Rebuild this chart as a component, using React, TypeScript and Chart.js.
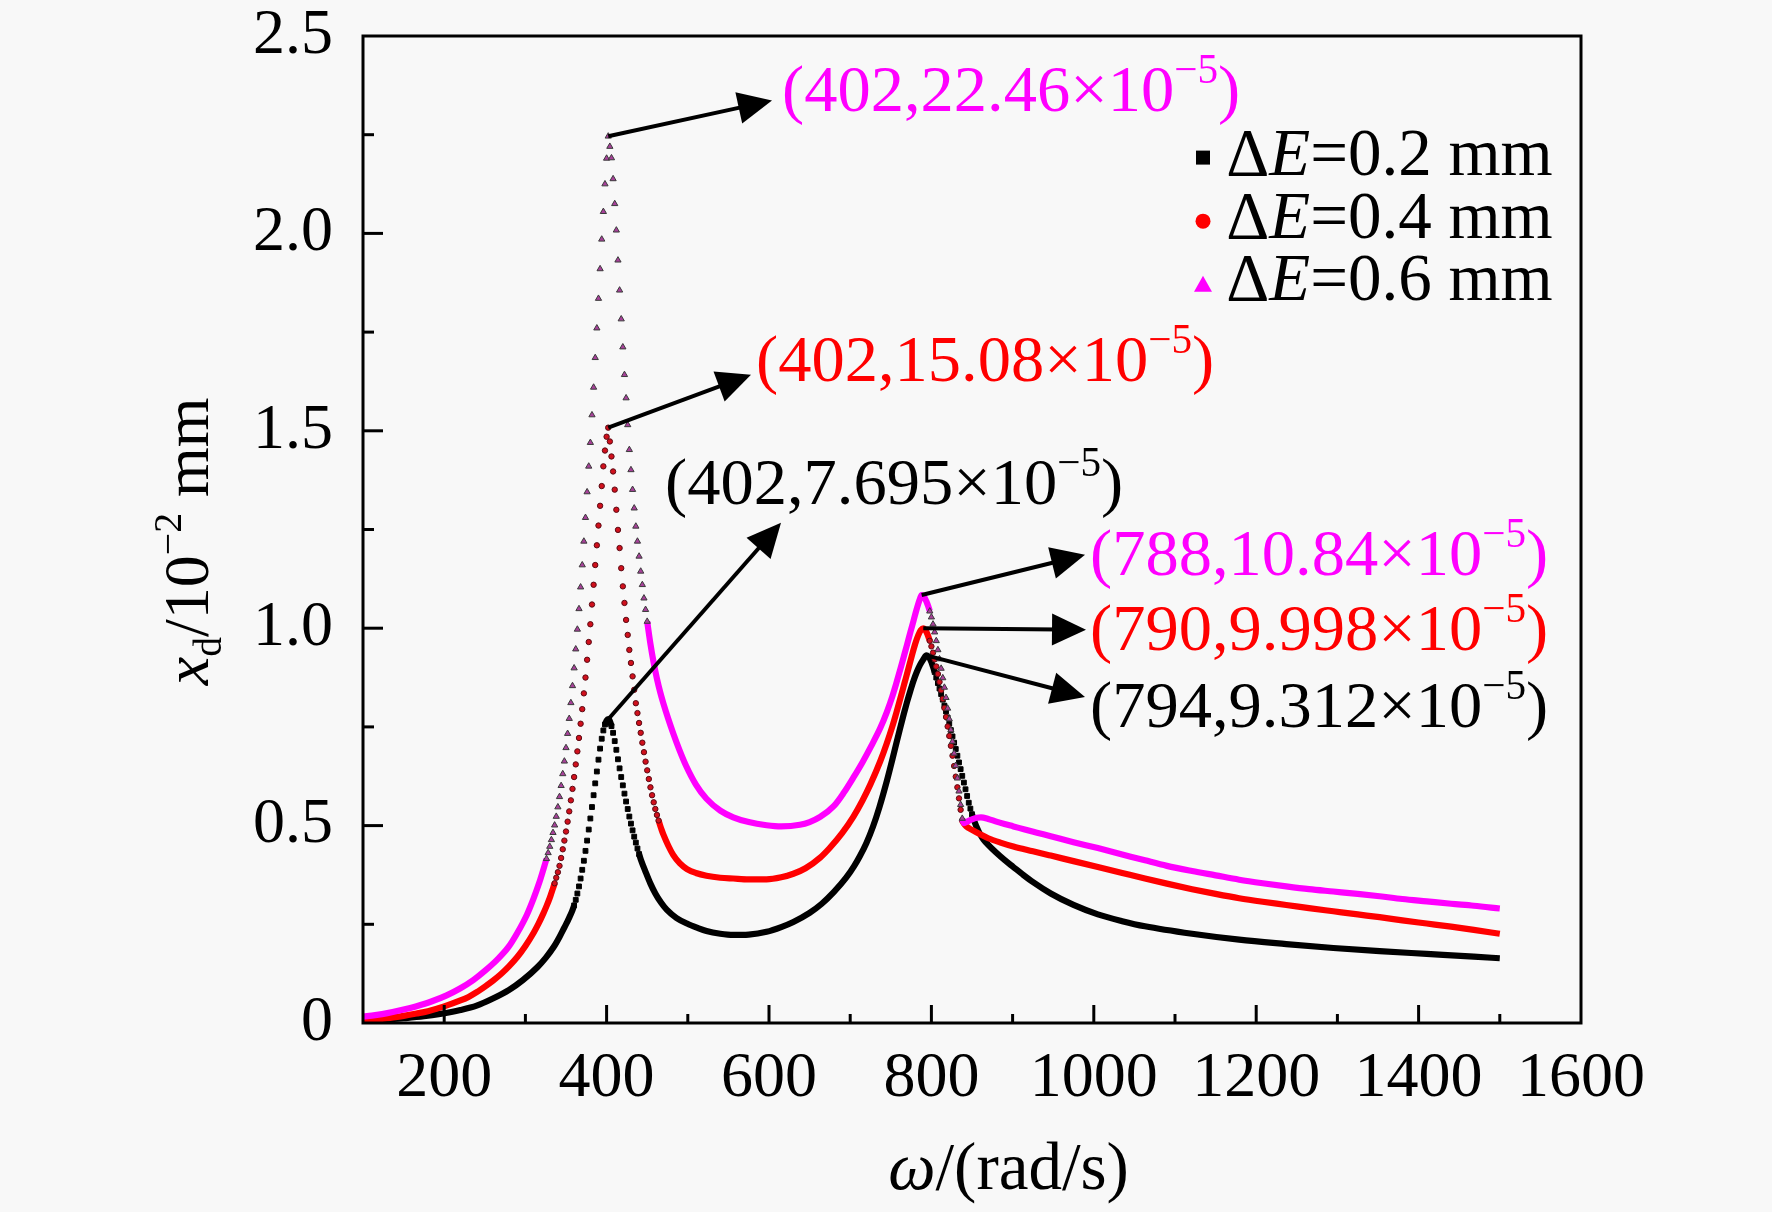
import React, { useEffect, useRef } from 'react';
import { Chart, registerables } from 'chart.js';

Chart.register(...registerables);

const FONT = "'Liberation Serif', 'Times New Roman', serif";
const BLACK = '#000000';
const RED = '#ff0000';
const MAGENTA = '#ff00ff';

// ω (rad/s) , x_d (10^-2 mm)
const blackCurve: [number, number][] = [
  [100,0.004],[125,0.008],[150,0.012],[175,0.017],[195,0.023],[220,0.033],[240,0.044],[260,0.062],[280,0.084],[297,0.109],[315,0.142],[325,0.165],[335,0.193],[342,0.218],[348,0.242],[352,0.258],[354,0.267],[356,0.276],[358,0.286],[360,0.298],[362,0.312],[364,0.328],[366,0.346],[368,0.366],[370,0.388],[372,0.411],[374,0.436],[376,0.462],[378,0.49],[380,0.518],[382,0.547],[384,0.577],[386,0.607],[388,0.637],[390,0.667],[392,0.695],[394,0.72],[396,0.741],[398,0.756],[400,0.766],[402,0.7695],[404,0.765],[406,0.752],[408,0.735],[410,0.714],[412,0.692],[414,0.668],[416,0.645],[418,0.623],[420,0.602],[422,0.581],[424,0.561],[426,0.542],[428,0.523],[430,0.505],[432,0.488],[434,0.472],[436,0.457],[438,0.442],[440,0.428],[442,0.415],[448,0.383],[454,0.353],[460,0.328],[467,0.305],[474,0.287],[486,0.266],[499,0.252],[512,0.241],[523,0.233],[540,0.226],[556,0.223],[575,0.224],[597,0.231],[615,0.243],[630,0.256],[650,0.279],[665,0.302],[680,0.332],[695,0.368],[705,0.398],[712,0.423],[720,0.456],[728,0.497],[736,0.547],[745,0.612],[752,0.668],[757,0.71],[761,0.743],[766,0.783],[770,0.813],[774,0.841],[778,0.867],[782,0.889],[786,0.907],[790,0.921],[794,0.9312],[796,0.929],[798,0.923],[800,0.914],[802,0.902],[804,0.889],[806,0.875],[808,0.861],[810,0.847],[812,0.833],[814,0.819],[816,0.804],[818,0.789],[820,0.774],[822,0.758],[824,0.742],[826,0.726],[828,0.71],[830,0.694],[832,0.677],[834,0.66],[836,0.643],[838,0.626],[840,0.609],[842,0.592],[844,0.575],[846,0.558],[848,0.543],[850,0.529],[852,0.516],[854,0.505],[856,0.495],[858,0.486],[860,0.478],[864,0.465],[870,0.451],[880,0.431],[890,0.413],[901,0.395],[912,0.377],[925,0.357],[947,0.328],[975,0.299],[1005,0.275],[1035,0.258],[1063,0.245],[1121,0.226],[1179,0.211],[1237,0.2],[1295,0.19],[1352,0.182],[1410,0.175],[1468,0.168],[1500,0.164]
];

const redCurve: [number, number][] = [
  [100,0.005],[115,0.008],[130,0.012],[150,0.018],[166,0.024],[180,0.03],[200,0.042],[220,0.057],[230,0.066],[240,0.078],[250,0.092],[260,0.107],[270,0.124],[280,0.144],[290,0.167],[300,0.195],[310,0.228],[316,0.251],[322,0.277],[326,0.296],[330,0.317],[332,0.329],[334,0.341],[336,0.354],[338,0.368],[340,0.382],[342,0.398],[344,0.418],[346,0.44],[348,0.462],[350,0.485],[352,0.51],[354,0.536],[356,0.564],[358,0.593],[360,0.623],[362,0.655],[364,0.688],[366,0.722],[368,0.758],[370,0.795],[372,0.835],[374,0.875],[376,0.92],[378,0.965],[380,1.01],[382,1.06],[384,1.11],[386,1.16],[388,1.21],[390,1.26],[392,1.31],[394,1.36],[396,1.41],[398,1.45],[400,1.485],[402,1.508],[404,1.473],[406,1.435],[408,1.397],[410,1.351],[412,1.3],[414,1.249],[416,1.203],[418,1.152],[420,1.106],[422,1.064],[424,1.021],[426,0.983],[428,0.945],[430,0.912],[432,0.878],[434,0.844],[436,0.81],[438,0.785],[440,0.76],[442,0.735],[444,0.71],[446,0.686],[448,0.662],[450,0.64],[452,0.618],[454,0.597],[456,0.577],[458,0.559],[460,0.542],[462,0.527],[464,0.513],[466,0.5],[468,0.488],[470,0.477],[476,0.449],[482,0.426],[490,0.405],[499,0.39],[510,0.38],[523,0.373],[540,0.368],[556,0.366],[575,0.364],[597,0.364],[615,0.369],[630,0.378],[645,0.392],[663,0.419],[675,0.444],[690,0.481],[704,0.523],[715,0.563],[725,0.605],[737,0.663],[745,0.708],[752,0.752],[757,0.787],[762,0.824],[767,0.862],[772,0.9],[776,0.931],[780,0.96],[784,0.983],[787,0.995],[790,0.9998],[792,0.997],[794,0.99],[796,0.98],[798,0.968],[800,0.954],[802,0.938],[804,0.921],[806,0.903],[808,0.884],[810,0.864],[812,0.843],[814,0.821],[816,0.798],[818,0.775],[820,0.751],[822,0.727],[824,0.702],[826,0.677],[828,0.651],[830,0.624],[832,0.597],[834,0.569],[836,0.54],[838,0.513],[840,0.505],[843,0.498],[850,0.489],[860,0.478],[870,0.468],[885,0.457],[901,0.447],[925,0.435],[947,0.424],[975,0.41],[1005,0.395],[1035,0.38],[1063,0.366],[1090,0.353],[1121,0.339],[1150,0.327],[1179,0.316],[1208,0.307],[1237,0.299],[1265,0.291],[1295,0.283],[1325,0.275],[1352,0.268],[1380,0.26],[1410,0.252],[1440,0.244],[1468,0.236],[1500,0.226]
];

const magentaCurve: [number, number][] = [
  [100,0.016],[115,0.02],[130,0.025],[150,0.034],[165,0.042],[185,0.055],[203,0.07],[220,0.088],[236,0.109],[250,0.132],[265,0.16],[279,0.192],[290,0.228],[302,0.275],[310,0.315],[317,0.355],[322,0.388],[326,0.416],[328,0.431],[330,0.447],[332,0.464],[334,0.482],[336,0.501],[338,0.523],[340,0.547],[342,0.573],[344,0.601],[346,0.631],[348,0.663],[350,0.697],[352,0.733],[354,0.771],[356,0.811],[358,0.854],[360,0.899],[362,0.947],[364,0.997],[366,1.049],[368,1.104],[370,1.16],[372,1.22],[374,1.28],[376,1.345],[378,1.41],[380,1.47],[382,1.54],[384,1.61],[386,1.685],[388,1.76],[390,1.835],[392,1.91],[394,1.985],[396,2.055],[398,2.125],[400,2.19],[402,2.246],[404,2.22],[406,2.191],[408,2.138],[410,2.075],[412,2.008],[414,1.932],[416,1.856],[418,1.783],[420,1.712],[422,1.642],[424,1.583],[426,1.515],[428,1.452],[430,1.401],[432,1.351],[434,1.304],[436,1.258],[438,1.22],[440,1.182],[442,1.144],[444,1.11],[446,1.076],[448,1.047],[450,1.017],[454,0.96],[458,0.912],[462,0.872],[466,0.838],[470,0.809],[476,0.77],[482,0.734],[490,0.69],[498,0.651],[510,0.604],[523,0.568],[540,0.538],[556,0.521],[575,0.509],[597,0.501],[615,0.498],[638,0.502],[650,0.509],[663,0.522],[680,0.55],[692,0.583],[704,0.622],[715,0.66],[726,0.702],[737,0.747],[745,0.787],[752,0.828],[757,0.862],[762,0.898],[766,0.928],[770,0.958],[774,0.989],[778,1.019],[781,1.042],[784,1.063],[786,1.075],[788,1.084],[790,1.082],[792,1.076],[794,1.067],[796,1.056],[798,1.043],[800,1.028],[802,1.01],[804,0.99],[806,0.968],[808,0.945],[810,0.922],[812,0.898],[814,0.874],[816,0.85],[818,0.824],[820,0.797],[822,0.77],[824,0.742],[826,0.713],[828,0.683],[830,0.652],[832,0.62],[834,0.587],[836,0.553],[838,0.518],[840,0.506],[842,0.508],[846,0.512],[850,0.516],[856,0.52],[861,0.521],[870,0.517],[880,0.51],[890,0.504],[901,0.498],[915,0.49],[930,0.482],[947,0.473],[975,0.458],[1005,0.443],[1035,0.427],[1063,0.412],[1090,0.398],[1121,0.385],[1150,0.374],[1179,0.363],[1208,0.354],[1237,0.346],[1265,0.339],[1295,0.333],[1325,0.327],[1352,0.321],[1380,0.314],[1410,0.308],[1440,0.302],[1468,0.297],[1500,0.29]
];

const seriesLabels = ['0.2', '0.4', '0.6'];
const xMajorLabels = ['200', '400', '600', '800', '1000', '1200', '1400', '1600'];
const yMajorLabels = ['0', '0.5', '1.0', '1.5', '2.0', '2.5'];

// annotation: peak point (tail), arrow tip and text anchor, all in data units
const peakNotes = [
  { color: MAGENTA, tail: [402, 2.246], tip: [603.7, 2.3365], at: [616, 2.309], text: '(402,22.46×10', exp: '−5' },
  { color: RED, tail: [402, 1.508], tip: [577.8, 1.642], at: [584, 1.627], text: '(402,15.08×10', exp: '−5' },
  { color: BLACK, tail: [402, 0.7695], tip: [614.8, 1.267], at: [471.9, 1.315], text: '(402,7.695×10', exp: '−5' },
  { color: MAGENTA, tail: [788, 1.084], tip: [989.2, 1.186], at: [995.3, 1.135], text: '(788,10.84×10', exp: '−5' },
  { color: RED, tail: [790, 0.9998], tip: [990.4, 0.996], at: [995.3, 0.945], text: '(790,9.998×10', exp: '−5' },
  { color: BLACK, tail: [794, 0.9312], tip: [989.2, 0.826], at: [995.3, 0.75], text: '(794,9.312×10', exp: '−5' },
];

const STEEP_PX = 5.5;

type Part = { t: string; it?: boolean; sup?: boolean; sub?: boolean };

function partFont(p: Part, size: number) {
  const s = p.sup || p.sub ? size * 0.62 : size;
  return `${p.it ? 'italic ' : ''}${s}px ${FONT}`;
}
function richWidth(ctx: CanvasRenderingContext2D, parts: Part[], size: number) {
  let w = 0;
  for (const p of parts) {
    ctx.font = partFont(p, size);
    w += ctx.measureText(p.t).width;
  }
  return w;
}
function drawRich(ctx: CanvasRenderingContext2D, parts: Part[], x: number, y: number, size: number, color: string) {
  ctx.fillStyle = color;
  ctx.textAlign = 'left';
  ctx.textBaseline = 'alphabetic';
  let cx = x;
  for (const p of parts) {
    ctx.font = partFont(p, size);
    const dy = p.sup ? -size * 0.42 : p.sub ? size * 0.2 : 0;
    ctx.fillText(p.t, cx, y + dy);
    cx += ctx.measureText(p.t).width;
  }
}

function isSteep(chart: any, dsIndex: number, i0: number, i1: number) {
  const data = chart.data.datasets[dsIndex].data;
  const a = data[i0];
  const b = data[i1];
  if (!a || !b) return false;
  if (b.x - a.x > 2.01) return false;
  const xs = chart.scales.x;
  const ys = chart.scales.y;
  if (!xs || !ys || !chart.chartArea) return false;
  const dx = xs.getPixelForValue(b.x) - xs.getPixelForValue(a.x);
  const dy = ys.getPixelForValue(b.y) - ys.getPixelForValue(a.y);
  const d = Math.hypot(dx, dy);
  return isFinite(d) && d > STEEP_PX;
}

function makeDataset(label: string, curve: [number, number][], color: string, style: string, radius: number, fill: string, edge: string, order: number) {
  return {
    label,
    data: curve.map(([x, y]) => ({ x, y })),
    borderColor: color,
    borderWidth: 6.2,
    pointStyle: style,
    pointBackgroundColor: fill,
    pointBorderColor: edge,
    pointBorderWidth: 1,
    pointRadius: (c: any) =>
      c.type === 'data' &&
      (isSteep(c.chart, c.datasetIndex, c.dataIndex - 1, c.dataIndex) ||
        isSteep(c.chart, c.datasetIndex, c.dataIndex, c.dataIndex + 1))
        ? radius
        : 0,
    pointHoverRadius: 0,
    cubicInterpolationMode: 'monotone',
    fill: false,
    order,
    segment: {
      borderColor: (c: any) =>
        isSteep(c.chart, c.datasetIndex, c.p0DataIndex, c.p1DataIndex) ? 'rgba(0,0,0,0)' : undefined,
    },
  };
}

const overlayPlugin = {
  id: 'overlayPlugin',
  afterDraw(chart: any) {
    const { ctx, chartArea: a, scales } = chart;
    const xs = scales.x;
    const ys = scales.y;
    const px = (v: number) => xs.getPixelForValue(v);
    const py = (v: number) => ys.getPixelForValue(v);
    ctx.save();

    // inward ticks
    ctx.strokeStyle = '#000';
    ctx.lineWidth = 3;
    ctx.lineCap = 'butt';
    xs.ticks.forEach((t: any) => {
      const x = px(t.value);
      if (x <= a.left + 2 || x >= a.right - 2) return;
      const major = t.value % 200 === 0;
      ctx.beginPath();
      ctx.moveTo(x, a.bottom);
      ctx.lineTo(x, a.bottom - (major ? 18 : 9));
      ctx.stroke();
    });
    ys.ticks.forEach((t: any) => {
      const y = py(t.value);
      if (y >= a.bottom - 2 || y <= a.top + 2) return;
      const major = Math.abs(t.value * 2 - Math.round(t.value * 2)) < 1e-6;
      ctx.beginPath();
      ctx.moveTo(a.left, y);
      ctx.lineTo(a.left + (major ? 20 : 11), y);
      ctx.stroke();
    });

    // frame
    ctx.lineWidth = 3;
    ctx.strokeRect(a.left, a.top, a.right - a.left, a.bottom - a.top);

    // arrows and peak labels
    peakNotes.forEach((n) => {
      const x0 = px(n.tail[0]);
      const y0 = py(n.tail[1]);
      const x1 = px(n.tip[0]);
      const y1 = py(n.tip[1]);
      const L = Math.hypot(x1 - x0, y1 - y0);
      const ux = (x1 - x0) / L;
      const uy = (y1 - y0) / L;
      const head = 34;
      const half = 16;
      ctx.strokeStyle = '#000';
      ctx.fillStyle = '#000';
      ctx.lineWidth = 4;
      ctx.beginPath();
      ctx.moveTo(x0, y0);
      ctx.lineTo(x1 - ux * head * 0.8, y1 - uy * head * 0.8);
      ctx.stroke();
      const bx = x1 - ux * head;
      const by = y1 - uy * head;
      ctx.beginPath();
      ctx.moveTo(x1, y1);
      ctx.lineTo(bx - uy * half, by + ux * half);
      ctx.lineTo(bx + uy * half, by - ux * half);
      ctx.closePath();
      ctx.fill();
      drawRich(ctx, [{ t: n.text }, { t: n.exp, sup: true }, { t: ')' }], px(n.at[0]), py(n.at[1]), 66.5, n.color);
    });

    // legend
    const legendRows = [
      { style: 'rect', color: BLACK, markerY: 2.192, baseY: 2.149 },
      { style: 'circle', color: RED, markerY: 2.031, baseY: 1.989 },
      { style: 'triangle', color: MAGENTA, markerY: 1.87, baseY: 1.832 },
    ];
    legendRows.forEach((r, i) => {
      const mx = px(1134.5);
      const my = py(r.markerY);
      ctx.fillStyle = r.color;
      ctx.beginPath();
      if (r.style === 'rect') {
        ctx.rect(mx - 7, my - 7, 14, 14);
      } else if (r.style === 'circle') {
        ctx.arc(mx, my, 7.5, 0, Math.PI * 2);
      } else {
        ctx.moveTo(mx, my - 9);
        ctx.lineTo(mx + 9, my + 7);
        ctx.lineTo(mx - 9, my + 7);
        ctx.closePath();
      }
      ctx.fill();
      drawRich(
        ctx,
        [{ t: 'Δ' }, { t: 'E', it: true }, { t: '=' + seriesLabels[i] + ' mm' }],
        px(1163),
        py(r.baseY),
        67,
        '#000'
      );
    });

    // x axis title
    const xt: Part[] = [{ t: 'ω', it: true }, { t: '/(rad/s)' }];
    const xw = richWidth(ctx, xt, 67);
    drawRich(ctx, xt, a.left + 0.53 * (a.right - a.left) - xw / 2, a.bottom + 166, 67, '#000');

    // y axis title (rotated)
    const yt: Part[] = [{ t: 'x', it: true }, { t: 'd', sub: true }, { t: '/10' }, { t: '−2', sup: true }, { t: ' mm' }];
    const yw = richWidth(ctx, yt, 64);
    ctx.translate(a.left - 155, a.top + 0.512 * (a.bottom - a.top));
    ctx.rotate(-Math.PI / 2);
    drawRich(ctx, yt, -yw / 2, 0, 64, '#000');

    ctx.restore();
  },
};

export default function App() {
  const canvasRef = useRef<HTMLCanvasElement | null>(null);

  useEffect(() => {
    if (!canvasRef.current) return;
    const chart = new Chart(canvasRef.current, {
      type: 'line',
      data: {
        datasets: [
          makeDataset('ΔE=0.2 mm', blackCurve, BLACK, 'rect', 3.4, '#000000', '#000000', 2),
          makeDataset('ΔE=0.4 mm', redCurve, RED, 'circle', 2.7, '#d0101c', '#5a0a14', 1),
          makeDataset('ΔE=0.6 mm', magentaCurve, MAGENTA, 'triangle', 3.6, '#a8409a', '#3a3a3a', 0),
        ] as any,
      },
      options: {
        responsive: false,
        animation: false,
        events: [],
        layout: { autoPadding: false, padding: { left: 0, top: 36, right: 191, bottom: 0 } },
        plugins: { legend: { display: false }, tooltip: { enabled: false } },
        scales: {
          x: {
            type: 'linear',
            min: 100,
            max: 1600,
            grid: { display: false, drawTicks: false, tickLength: 0 },
            border: { display: false },
            ticks: {
              stepSize: 100,
              autoSkip: false,
              maxRotation: 0,
              minRotation: 0,
              padding: 24,
              color: '#000',
              font: { family: FONT, size: 64, lineHeight: 1 },
              callback: (v: any) => {
                const s = String(v);
                return xMajorLabels.includes(s) ? s : '';
              },
            },
            afterFit: (s: any) => {
              s.height = 189;
            },
          },
          y: {
            type: 'linear',
            min: 0,
            max: 2.5,
            grid: { display: false, drawTicks: false, tickLength: 0 },
            border: { display: false },
            ticks: {
              stepSize: 0.25,
              autoSkip: false,
              padding: 30,
              color: '#000',
              font: { family: FONT, size: 64, lineHeight: 0.15 },
              callback: (v: any) => {
                const n = Number(v);
                const idx = Math.round(n * 2);
                if (Math.abs(n * 2 - idx) > 1e-6) return '';
                return yMajorLabels[idx] ?? '';
              },
            },
            afterFit: (s: any) => {
              s.width = 363;
            },
          },
        },
      },
      plugins: [overlayPlugin],
    } as any);
    return () => chart.destroy();
  }, []);

  return (
    <div style={{ position: 'fixed', left: 0, top: 0, width: 1772, height: 1212, background: '#f8f8f8' }}>
      <canvas ref={canvasRef} width={1772} height={1212} style={{ width: 1772, height: 1212, display: 'block' }} />
    </div>
  );
}
